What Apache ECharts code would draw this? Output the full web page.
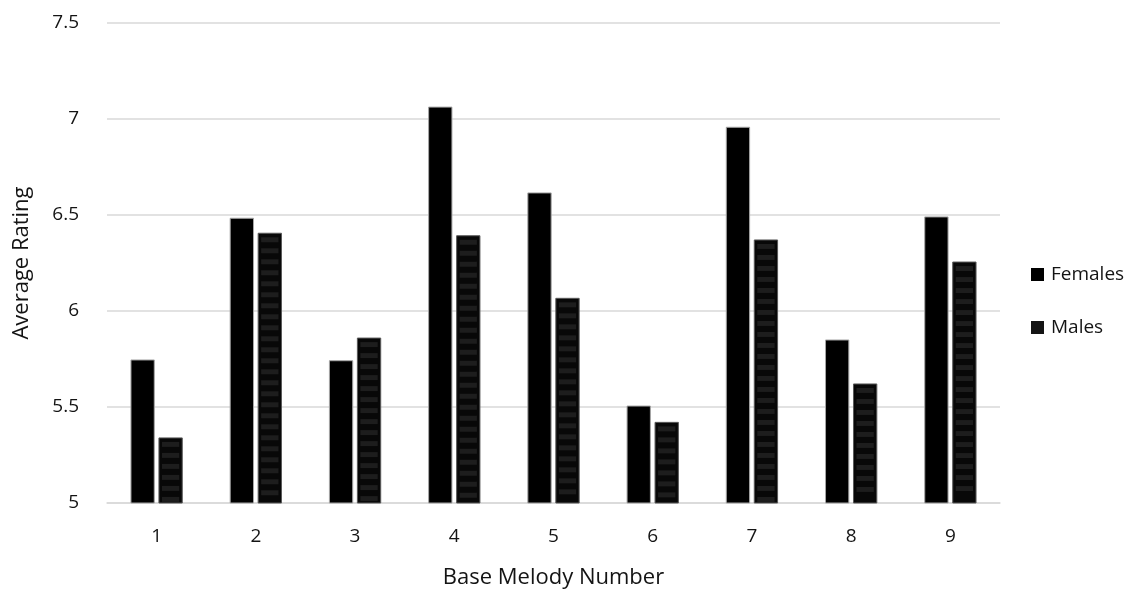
<!DOCTYPE html>
<html>
<head>
<meta charset="utf-8">
<style>
  html, body { margin: 0; padding: 0; background: #fff; }
  #chart { width: 1144px; height: 596px; }
</style>
<script src="https://cdn.jsdelivr.net/npm/echarts@6/dist/echarts.min.js"></script>
</head>
<body>
<div id="chart"></div>
<script>
// Average rating per base melody, split by listener gender
const categories = ['1', '2', '3', '4', '5', '6', '7', '8', '9'];
const females = [5.745, 6.483, 5.741, 7.062, 6.615, 5.505, 6.957, 5.849, 6.49];
const males = [5.339, 6.405, 5.859, 6.392, 6.066, 5.42, 6.37, 5.62, 6.255];

const AXIS_MIN = 5;
const FONT = '"Open Sans", "Liberation Sans", sans-serif';
const TEXT = '#141414';

// Draws one bar of a pair, offset left (-1) or right (+1) of the category centre;
// the striped variant adds the horizontal banding inside the bar.
function makeBarRenderer(side, striped) {
  return function (params, api) {
    const idx = api.value(0);
    const top = api.coord([idx, api.value(1)]);
    const base = api.coord([idx, AXIS_MIN]);
    const band = api.size([1, 0])[0];
    const w = band * 0.235;
    const offset = band * 0.141 * side;
    const x = top[0] + offset - w / 2;
    const y = top[1];
    const h = base[1] - top[1];
    const children = [{
      type: 'rect',
      shape: { x: x, y: y, width: w, height: h },
      style: { fill: striped ? '#080808' : '#000000', stroke: striped ? '#5a5a5a' : '#a6a6a6', lineWidth: 1 }
    }];
    if (striped) {
      for (let sy = y + 4; sy + 5 <= y + h - 1; sy += 11) {
        children.push({
          type: 'rect',
          shape: { x: x + 3, y: sy, width: w - 6, height: 5 },
          style: { fill: '#1d1d1d' }
        });
      }
    }
    return { type: 'group', children: children };
  };
}

const chart = echarts.init(document.getElementById('chart'), null, { renderer: 'canvas' });

chart.setOption({
  animation: false,
  backgroundColor: '#ffffff',
  grid: { left: 107, right: 144, top: 23, bottom: 93, containLabel: false },
  legend: {
    orient: 'vertical',
    left: 1026,
    top: 260,
    itemWidth: 13,
    itemHeight: 13,
    itemGap: 34,
    icon: 'rect',
    textStyle: { fontFamily: FONT, fontSize: 19, color: TEXT, padding: [0, 0, 0, 2] },
    data: [
      { name: 'Females', itemStyle: { color: '#000000' } },
      { name: 'Males', itemStyle: { color: '#141414' } }
    ]
  },
  xAxis: {
    type: 'category',
    data: categories,
    name: 'Base Melody Number',
    nameLocation: 'middle',
    nameGap: 64,
    nameTextStyle: { fontFamily: FONT, fontSize: 22, color: TEXT },
    axisLine: { show: true, lineStyle: { color: '#d9d9d9', width: 1.5 } },
    axisTick: { show: false },
    axisLabel: { fontFamily: FONT, fontSize: 19, color: TEXT, margin: 24 }
  },
  yAxis: {
    type: 'value',
    min: 5,
    max: 7.5,
    interval: 0.5,
    name: 'Average Rating',
    nameLocation: 'middle',
    nameGap: 74,
    nameTextStyle: { fontFamily: FONT, fontSize: 22, color: TEXT },
    axisLine: { show: false },
    axisTick: { show: false },
    axisLabel: { fontFamily: FONT, fontSize: 19, color: TEXT, margin: 28 },
    splitLine: { lineStyle: { color: '#d9d9d9', width: 1.5 } }
  },
  series: [
    {
      name: 'Females',
      type: 'custom',
      renderItem: makeBarRenderer(-1, false),
      itemStyle: { color: '#000000' },
      encode: { x: 0, y: 1 },
      data: females.map((v, i) => [i, v])
    },
    {
      name: 'Males',
      type: 'custom',
      renderItem: makeBarRenderer(1, true),
      itemStyle: { color: '#141414' },
      encode: { x: 0, y: 1 },
      data: males.map((v, i) => [i, v])
    }
  ]
});
</script>
</body>
</html>
